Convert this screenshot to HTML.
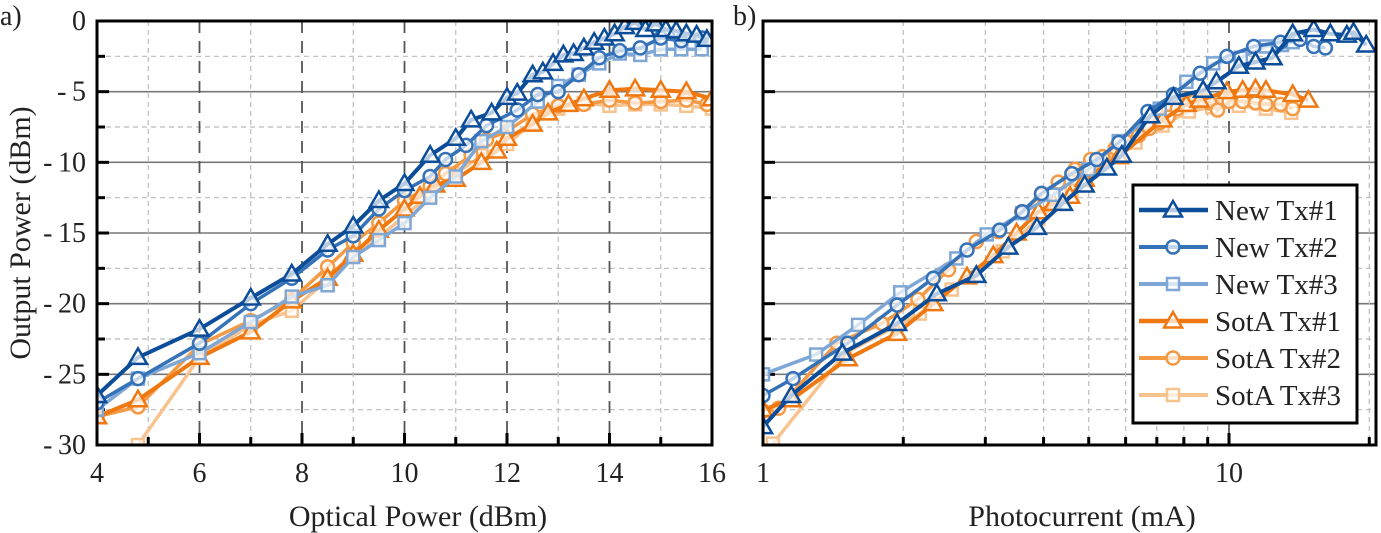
<!DOCTYPE html>
<html><head><meta charset="utf-8">
<style>
body{margin:0;background:#fff;width:1381px;height:533px;overflow:hidden}
svg{display:block;font-family:"Liberation Serif",serif}
</style></head>
<body>
<svg id="fig" width="1381" height="533" viewBox="0 0 1381 533"></svg>
<script>
// ---- data ----
const seriesNames = ["New Tx#1","New Tx#2","New Tx#3","SotA Tx#1","SotA Tx#2","SotA Tx#3"];
const leftX = [
 [4,4.8,6,7,7.8,8.5,9,9.5,10,10.5,11,11.3,11.7,12,12.2,12.5,12.7,12.9,13.1,13.3,13.5,13.7,13.9,14.1,14.3,14.5,14.7,14.9,15.1,15.3,15.5,15.7,15.9],
 [4,4.8,6,7,7.8,8.5,9,9.5,10,10.5,10.8,11.2,11.6,12.2,12.6,13,13.4,13.8,14.2,14.6,15,15.4,15.8],
 [4,4.8,6,7,7.8,8.5,9,9.5,10,10.5,11,11.5,12,12.6,13,13.4,13.8,14.2,14.6,15,15.4,15.8],
 [4,4.8,6,7,7.8,8.5,9,9.5,10,10.3,10.6,11,11.5,11.8,12,12.5,12.8,13.2,13.5,14,14.5,15,15.5,16],
 [4,4.8,6,7,7.8,8.5,9,9.5,10,10.5,10.8,11.3,11.6,12,12.5,13,13.5,14,14.5,15,15.5,15.9],
 [4.8,6,7,7.8,8.5,9,9.5,10,10.5,11,11.5,12,12.5,13,13.5,14,14.5,15,15.5,16]
];
const leftY = [
 [-26.5,-23.8,-21.8,-19.6,-17.9,-15.8,-14.5,-12.7,-11.5,-9.5,-8.3,-7,-6.5,-5.4,-5.1,-3.8,-3.6,-3.0,-2.4,-2.3,-1.9,-1.5,-1.2,-0.9,-0.4,-0.1,-0.6,-0.2,-0.6,-0.7,-0.9,-1.0,-1.3],
 [-27,-25.3,-22.8,-20,-18.2,-16.2,-15.2,-13.3,-12,-11,-9.8,-8.8,-7.4,-6.3,-5.2,-5,-3.8,-2.6,-2.1,-1.9,-1.2,-1.4,-1.2],
 [-27.5,-25.3,-23.5,-21.3,-19.5,-18.7,-16.7,-15.5,-14.3,-12.5,-11,-8.5,-7.5,-5.7,-4.6,-3.8,-3,-2.3,-2.4,-2,-2,-2],
 [-28,-26.8,-23.8,-22,-19.8,-18.2,-16.5,-14.8,-13.3,-12.4,-11.6,-11.2,-10,-9.2,-8.3,-7.3,-6.5,-5.9,-5.5,-4.9,-4.8,-4.9,-5.0,-5.5],
 [-28,-27.3,-22.9,-21.2,-19.7,-17.4,-15.7,-14.3,-12.7,-11.7,-10.8,-9.5,-8.4,-7.8,-6.6,-6,-5.9,-5.6,-5.8,-5.7,-5.6,-5.9],
 [-30,-23.8,-21.5,-20.5,-18.3,-16.5,-15.3,-13.8,-12.3,-10.8,-9.5,-8.7,-7.2,-6.2,-5.8,-6,-5.9,-5.9,-6,-6.2]
];
const rightX = [
 [1,1.15,1.48,1.94,2.36,2.87,3.36,3.87,4.4,4.9,5.47,5.89,6.77,7.6,8.8,9.4,10.5,11.4,12.4,13.7,15.2,16.5,17.9,18.5,19.7],
 [1,1.16,1.52,1.94,2.32,2.74,3.22,3.6,3.96,4.6,5.2,5.8,6.7,7.6,8.67,9.9,11.3,12.9,14.2,15.2,16.1],
 [1,1.3,1.6,1.97,2.6,3.02,3.6,4.2,5,5.8,7.1,8.1,9.25,10.6,12,13,13.7],
 [1,1.15,1.52,1.94,2.32,2.74,3.12,3.5,3.9,4.2,4.56,4.9,5.8,7.2,8.1,8.65,9.9,10.7,11.4,12,13.7,14.8],
 [1,1.08,1.44,1.8,2.15,2.5,2.87,3.2,3.59,3.96,4.3,4.67,5.05,5.36,5.7,6,6.4,6.75,7.1,7.4,7.75,8.1,8.4,8.8,9.1,9.45,10,10.7,11.4,12,12.9,13.7],
 [1.05,1.5,2.17,2.54,3.27,3.9,4.6,5.4,6.3,7.2,8.2,9.2,10.5,12,13.6]
];
const rightY = [
 [-28.7,-26.5,-23.5,-21.4,-19.3,-18.0,-16.0,-14.6,-12.9,-11.6,-10.4,-9.5,-6.7,-5.4,-4.9,-4.3,-3.2,-2.9,-2.6,-0.9,-0.6,-0.9,-1.0,-0.8,-1.7],
 [-26.5,-25.3,-22.8,-20.1,-18.2,-16.2,-14.8,-13.5,-12.2,-10.8,-9.8,-8.6,-6.4,-5.2,-3.7,-2.5,-1.8,-1.5,-1.3,-1.8,-1.9],
 [-25,-23.6,-21.5,-19.2,-16.8,-15.1,-13.6,-12.3,-10.5,-8.5,-6.2,-4.3,-3.0,-2.6,-1.8,-1.7,-1.5],
 [-27.5,-26.8,-23.9,-22.1,-20,-18.1,-16.6,-15,-13.5,-12.9,-12.4,-11.2,-9.6,-7,-5.9,-5.6,-5,-4.9,-4.8,-4.9,-5.2,-5.6],
 [-27.6,-27.4,-22.8,-21.4,-19.7,-17.6,-15.6,-14.9,-13.5,-12.3,-11.4,-10.5,-9.8,-9.6,-9,-8.5,-8.1,-7.6,-7.2,-6.8,-6.2,-5.9,-5.7,-5.6,-5.8,-6.3,-5.7,-5.7,-5.8,-5.9,-5.9,-6.2],
 [-29.9,-23.5,-20.7,-19,-16.3,-14,-12,-10,-8.6,-7.4,-6.4,-6.1,-6.0,-6.2,-6.5]
];
const yTicks = [0,-5,-10,-15,-20,-25,-30];
const leftXTicks = [4,6,8,10,12,14,16];
const rightXTicks = [1,10];
// ---- style ----
const colors = ["#0c4d99","#3572b8","#7ea7d6","#f07810","#f49a45","#f8c38e"];
const markers = ["tri","circ","sq","tri","circ","sq"];
const widths = [4,3.5,3.5,4,3.5,3.5];

const NS="http://www.w3.org/2000/svg";
const svg=document.getElementById('fig');
function el(tag,attrs,parent){const e=document.createElementNS(NS,tag);for(const k in attrs)e.setAttribute(k,attrs[k]);(parent||svg).appendChild(e);return e;}

const L={x0:97,x1:712,y0:21,y1:445};
const R={x0:763,x1:1376,y0:21,y1:445};
const yS=v=>L.y0+(0-v)/30*(L.y1-L.y0);
const lxS=v=>L.x0+(v-4)/12*(L.x1-L.x0);
const rxS=v=>R.x0+Math.log10(v)*466;

function grid(P,vx,isLeft){
  const g=el('g',{});
  
  
  for(let v=-2.5;v>-30;v-=2.5){
    const y=yS(v);const major=(Math.abs(v%5)<0.01);
    el('line',{x1:P.x0,x2:P.x1,y1:y,y2:y,stroke:major?'#777':'#bbb','stroke-width':major?1.6:1.2,'stroke-dasharray':major?'none':'5,4'},g);
    el('line',{x1:P.x0,x2:P.x0+(major?12:8),y1:y,y2:y,stroke:'#000','stroke-width':3},g);
  }
  vx.forEach(([x,major])=>{
    el('line',{x1:x,x2:x,y1:P.y0,y2:P.y1,stroke:major?'#555':'#bbb','stroke-width':major?1.8:1.2,'stroke-dasharray':major?'12,8':'5,4'},g);
    el('line',{x1:x,x2:x,y1:P.y1,y2:P.y1-(major?12:8),stroke:'#000','stroke-width':3},g);
  });
}
const lv=[];for(let v=5;v<16;v++)lv.push([lxS(v),v%2==0]);
grid(L,lv,true);
const rv=[];[2,3,4,5,6,7,8,9,10,20].forEach(v=>rv.push([rxS(v),v==10]));
grid(R,rv,false);

function marker(g,type,x,y,c){
  if(type==='tri')el('path',{d:`M${x},${y-9} L${x+9},${y+6.5} L${x-9},${y+6.5}Z`,fill:'#fff','fill-opacity':0.7,stroke:c,'stroke-width':2.5},g);
  else if(type==='circ')el('circle',{cx:x,cy:y,r:6.5,fill:'#fff','fill-opacity':0.7,stroke:c,'stroke-width':2.5},g);
  else el('rect',{x:x-6,y:y-6,width:12,height:12,fill:'#fff','fill-opacity':0.7,stroke:c,'stroke-width':2.5},g);
}
function plotSeries(P,xs,ys,xS,tag){
  const clip=el('clipPath',{id:'clip'+tag});
  el('rect',{x:P.x0,y:P.y0,width:P.x1-P.x0,height:P.y1-P.y0},clip);
  for(let i=5;i>=0;i--){
    const g=el('g',{'clip-path':`url(#clip${tag})`});
    
    
    const pts=xs[i].map((x,j)=>xS(x).toFixed(1)+','+yS(ys[i][j]).toFixed(1)).join(' ');
    el('polyline',{points:pts,fill:'none',stroke:colors[i],'stroke-width':widths[i],'stroke-linejoin':'round'},g);
    xs[i].forEach((x,j)=>marker(g,markers[i],xS(x),yS(ys[i][j]),colors[i]));
  }
}
plotSeries(L,leftX,leftY,lxS,'left');
plotSeries(R,rightX,rightY,rxS,'right');

[L,R].forEach((P,k)=>{const f=el('rect',{x:P.x0,y:P.y0,width:P.x1-P.x0,height:P.y1-P.y0,fill:'none',stroke:'#000','stroke-width':3});
});

function text(t,x,y,anchor,name,size){const e=el('text',{x:x,y:y,'text-anchor':anchor,'font-size':size||28,fill:'#222'});e.textContent=t;
return e;}
yTicks.forEach(v=>text(v<0?'-\u2009'+Math.abs(v):String(v),86,yS(v)+9,'end','y-tick-label'));
leftXTicks.forEach(v=>text(String(v),lxS(v),482,'middle','x-tick-label'));
rightXTicks.forEach(v=>text(String(v),rxS(v),482,'middle','x-tick-label'));
text('a)',0,25,'start','panel-a-label',28);
text('b)',733,25,'start','panel-b-label',28);
text('Optical Power (dBm)',418,526,'middle','left-x-axis-title',30);
text('Photocurrent (mA)',1082,526,'middle','right-x-axis-title',30);
const yt=text('Output Power (dBm)',0,0,'middle','y-axis-title',30);
yt.setAttribute('transform','translate(30,233) rotate(-90)');

// legend
const lg=el('g',{});


el('rect',{x:1133,y:185,width:224,height:238,fill:'#fff',stroke:'#000','stroke-width':3},lg);
seriesNames.forEach((n,i)=>{
  const y=210+i*37;
  const e=el('g',{},lg);
  
  
  el('line',{x1:1139,x2:1208,y1:y,y2:y,stroke:colors[i],'stroke-width':widths[i]+0.5},e);
  marker(e,markers[i],1173,y,colors[i]);
  const t=el('text',{x:1215,y:y+10,'font-size':29,fill:'#222'},e);t.textContent=n;
});
</script>
</body></html>
